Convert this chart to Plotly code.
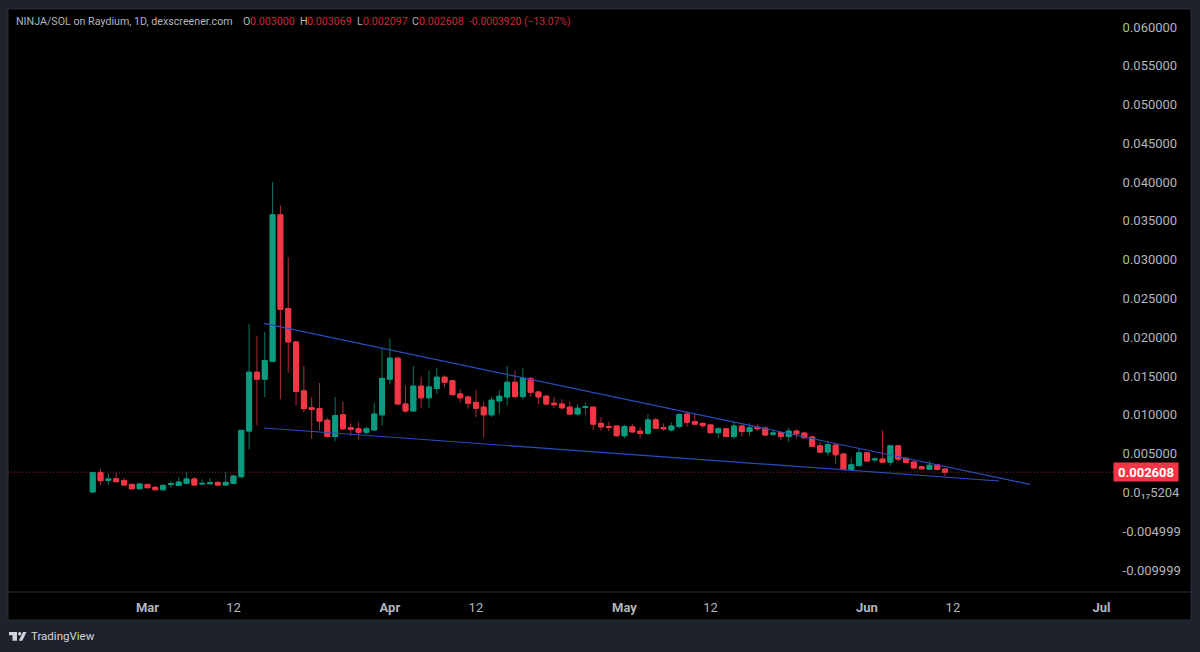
import pandas as pd
import plotly.graph_objects as go

W, H = 1200, 652
L, R, T, B = 8, 1113, 9, 592

dates = pd.date_range("2024-02-23", periods=110, freq="D")

opens = [.00005,.00254,.00155,.00176,.00151,.00103,.00047,.00103,.00065,.00034,
 .00103,.00090,.00116,.00173,.00108,.00112,.00129,.00095,.00116,.00202,
 .00791,.0155,.0146,.0169,.0358,.0237,.0194,.0131,.0109,.0108,
 .0093,.0072,.0100,.00835,.0082,.00775,.00805,.0100,.0146,.0173,
 .0114,.0105,.0137,.0122,.0134,.01485,.0144,.0127,.0123,.0116,
 .0110,.0100,.0118,.0123,.0142,.01235,.0147,.01295,.0124,.0115,
 .0114,.0110,.0101,.01095,.0110,.0089,.0085,.00855,.0073,.00845,
 .0079,.0076,.00935,.00835,.00805,.0085,.0101,.0091,.0089,.0087,
 .0077,.0082,.0072,.00855,.00785,.0084,.0083,.0075,.0077,.0072,
 .0079,.00765,.00715,.0060,.0052,.0061,.00495,.00295,.00345,.0051,
 .0042,.0043,.0039,.0060,.0044,.0039,.0033,.0030,.00355,.0030]
highs = [.00254,.00301,.00246,.00254,.00185,.00112,.00125,.00112,.00082,.00103,
 .00146,.00194,.00259,.00194,.00168,.00181,.00142,.00259,.00224,.00805,
 .0217,.0202,.0207,.0400,.0370,.0303,.0194,.0163,.0123,.0141,
 .0096,.0123,.0117,.0089,.0091,.0085,.0115,.0186,.0198,.0175,
 .0138,.0163,.0149,.0157,.0160,.0151,.0145,.0133,.0125,.0132,
 .0117,.0123,.0132,.0163,.0157,.0161,.0149,.0131,.0126,.0123,
 .0120,.0117,.0114,.0116,.0110,.0097,.0091,.00865,.0087,.0088,
 .0084,.0101,.0096,.0089,.0090,.0102,.01045,.0101,.0090,.0088,
 .0084,.0083,.00905,.0087,.0089,.0088,.0085,.0081,.00785,.00835,
 .00815,.0078,.0073,.0065,.00655,.0063,.00505,.0044,.0057,.0052,
 .0045,.0080,.0061,.0060,.0045,.0041,.0034,.00405,.00365,.003069]
lows = [.00005,.00095,.00095,.00138,.00086,.00043,.00043,.00056,.00030,.00030,
 .00060,.00086,.00112,.00090,.00103,.00108,.00090,.00090,.00112,.00181,
 .00556,.00865,.0123,.0168,.0120,.0154,.0112,.0103,.0069,.0080,
 .0071,.0066,.00805,.0073,.0068,.0075,.0079,.0086,.0139,.0113,
 .0102,.0105,.0109,.0109,.0127,.01355,.0125,.0116,.0108,.0097,
 .00706,.0097,.0101,.0112,.0122,.0120,.0123,.0114,.0112,.0109,
 .0107,.0100,.0099,.0100,.00805,.0080,.0079,.0072,.0070,.0077,
 .00695,.0074,.0082,.00795,.00785,.00825,.0085,.0087,.00825,.0076,
 .0070,.00715,.0069,.0072,.0073,.00795,.0073,.0073,.00675,.0065,
 .00695,.00695,.00585,.0051,.00475,.00365,.00285,.0029,.0034,.00395,
 .0039,.00385,.00345,.00395,.00375,.00305,.00295,.00295,.00285,.002097]
closes = [.00254,.00151,.00173,.00138,.00095,.00047,.00108,.00060,.00034,.00090,
 .00112,.00133,.00173,.00095,.00116,.00125,.00095,.00129,.00211,.0080,
 .0155,.0146,.0170,.0358,.0236,.0194,.0130,.0108,.0107,.0092,
 .0072,.0099,.0082,.00813,.00775,.0082,.0101,.0147,.0173,.0114,
 .0105,.0137,.0122,.0136,.01485,.0142,.0126,.0122,.0115,.01085,
 .0100,.0119,.0124,.0142,.01235,.0147,.0129,.0123,.0114,.0113,
 .0109,.0101,.01085,.01105,.0088,.00845,.0084,.0073,.0085,.0078,
 .0076,.00935,.00825,.0082,.00855,.01005,.00905,.0088,.0086,.0077,
 .0082,.0072,.00855,.00785,.00835,.0082,.0074,.00765,.0072,.0079,
 .00755,.00705,.00595,.0052,.00615,.00485,.00295,.00355,.0051,.00405,
 .0043,.0039,.0060,.0043,.00385,.00315,.00305,.0035,.00295,.002608]

upper_x = ["2024-03-15T21:36", "2024-06-21T20:38"]
upper_y = [.0218, .00104]
lower_x = ["2024-03-15T21:36", "2024-06-17T21:36"]
lower_y = [.0083, .00147]

y_ticks = [.06,.055,.05,.045,.04,.035,.03,.025,.02,.015,.01,.005,0,-.005,-.01]
y_labels = ["0.060000","0.055000","0.050000","0.045000","0.040000","0.035000","0.030000",
            "0.025000","0.020000","0.015000","0.010000","0.005000","0.0₁₇5204","-0.004999","-0.009999"]
x_ticks = ["2024-03-01","2024-03-12","2024-04-01","2024-04-12","2024-05-01","2024-05-12",
           "2024-06-01","2024-06-12","2024-07-01"]
x_labels = ["<b>Mar</b>","12","<b>Apr</b>","12","<b>May</b>","12","<b>Jun</b>","12","<b>Jul</b>"]

last_price = closes[-1]
UP, DOWN = "#0b9b7f", "#f23645"
UP_WICK, DOWN_WICK = "#0a7563", "#ae2c3a"
GREY = "#b2b5be"
PAGE = "#1e222d"
FONT = "Roboto"

px = lambda x: (x - L) / (R - L)
py = lambda y: (B - y) / (B - T)

body_top = [max(o, c) for o, c in zip(opens, closes)]
body_bot = [min(o, c) for o, c in zip(opens, closes)]

fig = go.Figure()
# wicks underneath, in the dimmer tone they have in the reference
fig.add_trace(go.Candlestick(
    x=dates, open=opens, high=highs, low=lows, close=closes,
    increasing=dict(line=dict(color=UP_WICK, width=1), fillcolor=UP),
    decreasing=dict(line=dict(color=DOWN_WICK, width=1), fillcolor=DOWN),
    whiskerwidth=0, showlegend=False, hoverinfo="skip"))
# bodies on top
fig.add_trace(go.Candlestick(
    x=dates, open=opens, high=body_top, low=body_bot, close=closes,
    increasing=dict(line=dict(color=UP, width=1), fillcolor=UP),
    decreasing=dict(line=dict(color=DOWN, width=1), fillcolor=DOWN),
    whiskerwidth=0, showlegend=False, hoverinfo="skip"))
for xs, ys in ((upper_x, upper_y), (lower_x, lower_y)):
    fig.add_trace(go.Scatter(x=xs, y=ys, mode="lines", showlegend=False, hoverinfo="skip",
                             line=dict(color="#2a4cc0", width=1.2)))

shapes = [
    dict(type="rect", xref="paper", yref="paper", x0=px(8), x1=px(1191), y0=py(620), y1=py(9),
         fillcolor="#000000", line=dict(color="#2a2e39", width=1), layer="below"),
    dict(type="line", xref="paper", yref="paper", x0=px(8), x1=px(1191), y0=py(592), y1=py(592),
         line=dict(color="#2a2e39", width=1), layer="below"),
    dict(type="line", xref="paper", yref="y", x0=0, x1=1, y0=last_price, y1=last_price,
         line=dict(color="#8f2a35", width=1, dash="1px,2px"), layer="below"),
]
def path(points):
    return "M " + " L ".join(f"{px(a):.5f},{py(b):.5f}" for a, b in points) + " Z"
for pts in ([(9,632),(17,632),(17,640.7),(12.5,640.7),(12.5,635.3),(9,635.3)],
            [(23,632),(26.5,632),(22.3,640.7),(18.8,640.7)]):
    shapes.append(dict(type="path", xref="paper", yref="paper", path=path(pts),
                       fillcolor="#d1d4dc", line=dict(width=0), layer="above"))
shapes.append(dict(type="circle", xref="paper", yref="paper", x0=px(18), x1=px(21.4), y0=py(635.4), y1=py(632),
                   fillcolor="#d1d4dc", line=dict(width=0), layer="above"))

def note(x, y, text, color=GREY, size=10.7, anchor="left"):
    return dict(xref="paper", yref="paper", x=px(x), y=py(y), text=text, showarrow=False,
                xanchor=anchor, yanchor="middle", xshift=-1, font=dict(family=FONT, size=size, color=color))

RED_TXT = "#c9283a"
annotations = [
    note(15, 21, "NINJA/SOL on Raydium, 1D, dexscreener.com"),
    note(242, 21, "O"), note(249, 21, "0.003000", RED_TXT),
    note(299, 21, "H"), note(306, 21, "0.003069", RED_TXT),
    note(356, 21, "L"), note(362, 21, "0.002097", RED_TXT),
    note(411, 21, "C"), note(418, 21, "0.002608", RED_TXT),
    note(468, 21, "-0.0003920 (−13.07%)", RED_TXT, 10.4),
    note(30, 636, "TradingView", "#d1d4dc", 11.5),
    dict(xref="paper", yref="y", x=px(1146), y=last_price, text="<b>0.002608</b>", showarrow=False,
         xanchor="center", yanchor="middle", bgcolor=DOWN, width=64, height=18, borderpad=0,
         font=dict(family=FONT, size=13, color="#ffffff")),
]

fig.update_layout(
    width=W, height=H, autosize=False,
    margin=dict(l=L, r=W - R, t=T, b=H - B, pad=0),
    paper_bgcolor=PAGE, plot_bgcolor="rgba(0,0,0,0)",
    font=dict(family=FONT, color=GREY, size=13),
    showlegend=False, boxgap=0.3, boxgroupgap=0.1, boxmode="overlay",
    shapes=shapes, annotations=annotations,
    xaxis=dict(type="date", range=["2024-02-12T04:00", "2024-07-02T11:17"],
               tickmode="array", tickvals=x_ticks, ticktext=x_labels,
               rangeslider=dict(visible=False), showgrid=False, zeroline=False, showline=False,
               ticks="outside", ticklen=3, tickcolor="rgba(0,0,0,0)",
               tickfont=dict(family=FONT, size=13, color=GREY)),
    yaxis=dict(side="right", range=[-.01284, .06232],
               tickmode="array", tickvals=y_ticks, ticktext=y_labels,
               showgrid=False, zeroline=False, showline=False,
               ticks="outside", ticklen=6, tickcolor="rgba(0,0,0,0)",
               tickfont=dict(family=FONT, size=13, color=GREY)),
)

fig.write_html("out.html", config=dict(displayModeBar=False),
               post_script="document.body.style.margin='0';document.body.style.background='#1e222d';")
